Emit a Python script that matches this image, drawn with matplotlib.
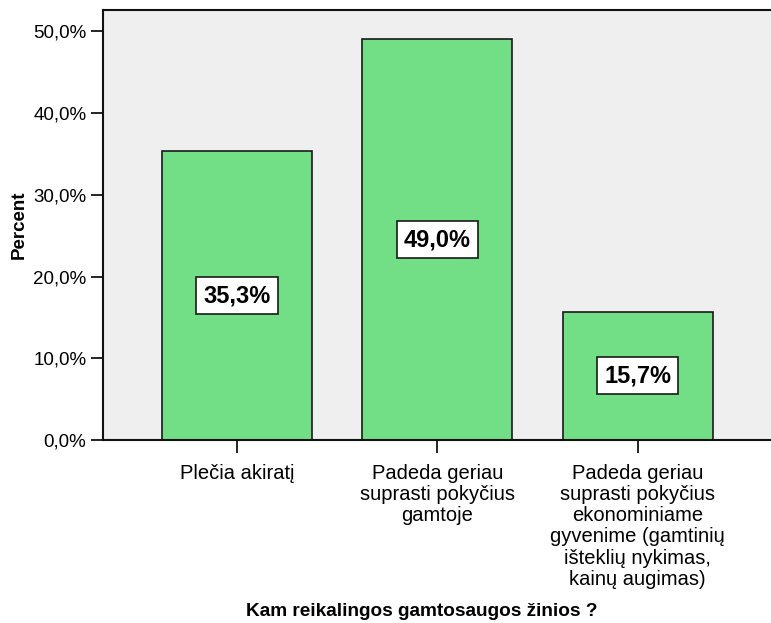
import matplotlib
matplotlib.use("Agg")
import matplotlib.pyplot as plt
from matplotlib.ticker import FuncFormatter

categories = [
    "Plečia akiratį",
    "Padeda geriau\nsuprasti pokyčius\ngamtoje",
    "Padeda geriau\nsuprasti pokyčius\nekonominiame\ngyvenime (gamtinių\ništeklių nykimas,\nkainų augimas)",
]
percent = [35.3, 49.0, 15.7]
yticks = [0, 10, 20, 30, 40, 50]

plt.rcParams.update({
    "font.family": ["Liberation Sans", "DejaVu Sans"],
})

fig = plt.figure(figsize=(7.71, 6.23), dpi=100)
ax = fig.add_axes([103 / 771, 1 - 440 / 623, 1 - 103 / 771 + 0.01, 430 / 623])
ax.set_facecolor("#EFEFEF")

x = range(len(categories))
ax.bar(x, percent, width=0.75, color="#72DE86", edgecolor="#1a1a1a", lw=1.2, zorder=2)

for i, v in zip(x, percent):
    ax.text(i, v / 2, f"{v:.1f}%".replace(".", ","), ha="center", va="center",
            fontsize=17, fontweight="bold", zorder=3,
            bbox=dict(boxstyle="square,pad=0.3", fc="white", ec="#1a1a1a", lw=1.2))

ax.set_xlim(-0.669, 2.654 + 0.05)
ax.set_ylim(0, 52.6)
ax.set_yticks(yticks)
ax.yaxis.set_major_formatter(FuncFormatter(lambda v, p: f"{v:.1f}%".replace(".", ",")))
ax.set_xticks(list(x))
ax.set_xticklabels(categories, fontsize=14.5, linespacing=1.15, va="top")

for s in ["top", "left", "bottom"]:
    ax.spines[s].set_linewidth(1.5)
    ax.spines[s].set_color("#111111")
ax.spines["right"].set_visible(False)
ax.tick_params(axis="y", direction="out", length=9, width=1.2, labelsize=13.5, pad=3)
ax.tick_params(axis="x", direction="out", length=9, width=1.2, pad=8)

ax.set_ylabel("Percent", fontsize=13.5, fontweight="bold", labelpad=4)
fig.text(422 / 771, 1 - 612 / 623, "Kam reikalingos gamtosaugos žinios ?", ha="center", va="center",
         fontsize=13.7, fontweight="bold")

fig.savefig("out.png", dpi=100)
